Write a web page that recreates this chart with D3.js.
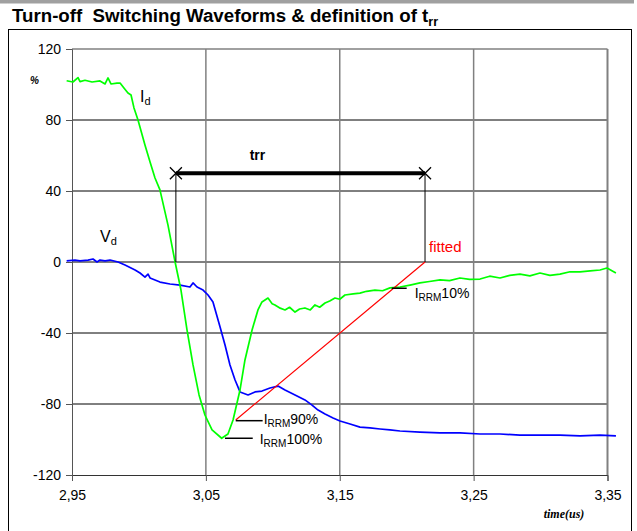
<!DOCTYPE html>
<html><head><meta charset="utf-8">
<script src="https://cdn.jsdelivr.net/npm/d3@7"></script>
<style>body{margin:0;background:#fff}svg{display:block}</style>
</head><body>
<script>
// ---- data ----
const xTicks = [2.95, 3.05, 3.15, 3.25, 3.35];
const yTicks = [-120, -80, -40, 0, 40, 80, 120];

const idTime = [2.946,2.9507,2.9545,2.956,2.9597,2.965,2.9709,2.9747,2.9769,2.9791,2.9836,2.9859,2.9888,2.9918,2.9941,2.9963,2.9993,3.0045,3.0083,3.012,3.0157,3.0217,3.027,3.0314,3.0359,3.0404,3.0449,3.0493,3.0546,3.0618,3.0665,3.0703,3.0755,3.0792,3.0845,3.0889,3.0919,3.0964,3.0995,3.1016,3.1055,3.1091,3.1125,3.1166,3.12,3.124,3.128,3.1315,3.135,3.139,3.1425,3.1464,3.15,3.1539,3.16,3.1651,3.17,3.1763,3.182,3.1875,3.195,3.2025,3.2099,3.217,3.2249,3.232,3.2398,3.247,3.2548,3.262,3.2697,3.277,3.2846,3.292,3.2996,3.307,3.3145,3.322,3.3295,3.337,3.3444,3.3496,3.3563];
const idValue = [102.1,101.4,103.9,101.6,102.4,101.4,102.0,100.3,103.7,100.3,100.8,100.8,98.0,95.2,94.1,86.8,80.0,65.9,56.3,47.3,40.6,20.8,0,-15.8,-38.3,-58.0,-74.9,-86.2,-94.6,-99.3,-96.9,-89.0,-72.1,-55.2,-38.3,-27.0,-22.5,-20.3,-23.5,-24.2,-26.0,-27.0,-25.5,-28.2,-26.5,-25.9,-27.0,-24.2,-25.5,-23.1,-22.0,-20.3,-21.0,-18.6,-18.0,-17.5,-16.5,-15.8,-16.2,-14.6,-14.1,-13.0,-11.8,-11.0,-10.1,-10.5,-9.0,-9.8,-9.6,-8.0,-9.0,-7.5,-6.8,-7.8,-6.2,-7.5,-6.8,-5.5,-5.6,-5.0,-4.5,-3.4,-6.2];

const vdTime = [2.946,2.9522,2.956,2.962,2.9657,2.9687,2.9709,2.9747,2.9784,2.9844,2.9896,2.9971,3.0008,3.0045,3.0068,3.0083,3.0157,3.0232,3.0307,3.0381,3.0404,3.0434,3.0479,3.0516,3.0553,3.0606,3.0643,3.068,3.0718,3.0755,3.0815,3.0867,3.0919,3.0979,3.1039,3.1091,3.1166,3.124,3.1293,3.1338,3.139,3.145,3.1502,3.1577,3.1651,3.1726,3.1801,3.1875,3.195,3.2099,3.2249,3.2398,3.2548,3.2697,3.2846,3.2996,3.3145,3.3295,3.3444,3.3563];
const vdValue = [0.6,1.1,0.6,1.1,1.7,0,1.1,0.6,1.1,0,-1.7,-4.5,-6.2,-8.5,-6.8,-9.0,-11.3,-12.4,-13.0,-14.1,-11.8,-14.1,-15.8,-18.6,-22.5,-36.6,-46.8,-58.0,-66.5,-73.2,-74.9,-73.2,-72.7,-71.0,-69.9,-72.1,-74.9,-77.7,-80.6,-83.4,-85.6,-87.9,-89.6,-91.3,-93.0,-93.5,-94.1,-94.6,-95.2,-95.8,-96.3,-96.3,-96.9,-96.9,-97.5,-97.5,-97.5,-98.0,-97.5,-98.0];

// annotation values
const trrStart = 3.0276, trrEnd = 3.2137, trrLevel = 50;
const fittedLine = [[3.0723, -89.0], [3.2137, 0]];
const irrm90 = [[3.0723, -89.4], [3.0924, -89.4]];
const irrm100 = [[3.0643, -99.3], [3.085, -99.3]];
const irrm10 = [[3.1888, -14.8], [3.2, -14.8]];

// ---- drawing ----
const W = 637, H = 531;
const svg = d3.select("body").append("svg").attr("width", W).attr("height", H);
const x = d3.scaleLinear().domain([2.95, 3.35]).range([72, 607.5]);
const y = d3.scaleLinear().domain([-120, 120]).range([475, 49]);
const font = "Liberation Sans, Arial, sans-serif";

// top gray bar
svg.append("rect").attr("x", 0).attr("y", 0).attr("width", 634).attr("height", 3.5).attr("fill", "#a0a0a0");
// title
const title = svg.append("text").attr("x", 12).attr("y", 22)
  .attr("font-family", font).attr("font-weight", "bold").attr("font-size", 18.7);
title.append("tspan").text("Turn-off\u00a0\u00a0Switching Waveforms & definition of t");
title.append("tspan").attr("font-size", 12.5).attr("dy", 4).text("rr");
// frame
svg.append("rect").attr("x", 8.5).attr("y", 29.5).attr("width", 623).attr("height", 510)
  .attr("fill", "none").attr("stroke", "#000").attr("stroke-width", 1);

// horizontal gridlines
svg.append("g").selectAll("line").data(yTicks.filter(d => d > -120 && d < 120)).join("line")
  .attr("x1", x(2.95)).attr("x2", x(3.35)).attr("y1", d => y(d)).attr("y2", d => y(d))
  .attr("stroke", "#000").attr("stroke-width", 1);
// top border
svg.append("line").attr("x1", x(2.95)).attr("x2", x(3.35)).attr("y1", y(120)).attr("y2", y(120))
  .attr("stroke", "#808080").attr("stroke-width", 1.5);
// vertical gridlines
svg.append("g").selectAll("line").data(xTicks.filter(d => d > 2.95)).join("line")
  .attr("x1", d => x(d)).attr("x2", d => x(d)).attr("y1", y(120)).attr("y2", y(-120))
  .attr("stroke", "#808080").attr("stroke-width", d => d === 3.35 ? 2 : 1.5);

// axes
const yAxis = d3.axisLeft(y).tickValues(yTicks).tickSize(6).tickPadding(5).tickFormat(d => String(d));
const gy = svg.append("g").attr("transform", `translate(${x(2.95)},0)`).call(yAxis);
gy.select(".domain").attr("stroke", "#555");
gy.selectAll(".tick line").attr("stroke", "#555");
gy.selectAll("text").attr("font-family", font).attr("font-size", 14).attr("fill", "#000");

const fmt = d => d.toFixed(2).replace(".", ",");
const xAxis = d3.axisBottom(x).tickValues(xTicks).tickSize(6).tickPadding(9).tickFormat(fmt);
const gx = svg.append("g").attr("transform", `translate(0,${y(-120)})`).call(xAxis);
gx.select(".domain").attr("stroke", "#333");
gx.selectAll(".tick line").attr("stroke", "#555");
gx.selectAll("text").attr("font-family", font).attr("font-size", 14).attr("fill", "#000");

svg.append("text").attr("x", 564).attr("y", 518).attr("text-anchor", "middle")
  .attr("font-family", "Liberation Serif, Times New Roman, serif").attr("font-style", "italic")
  .attr("font-weight", "bold").attr("font-size", 12).text("time(us)");
svg.append("text").attr("x", 30).attr("y", 84)
  .attr("font-family", font).attr("font-style", "italic").attr("font-weight", "bold").attr("font-size", 10).text("%");

// curves
const line = d3.line().x(d => x(d[0])).y(d => y(d[1]));
const idData = idTime.map((t, i) => [t, idValue[i]]);
const vdData = vdTime.map((t, i) => [t, vdValue[i]]);
svg.append("path").datum(vdData).attr("d", line).attr("fill", "none").attr("stroke", "#0000ff").attr("stroke-width", 1.7).attr("stroke-linejoin", "round");
svg.append("path").datum(idData).attr("d", line).attr("fill", "none").attr("stroke", "#00ff00").attr("stroke-width", 1.7).attr("stroke-linejoin", "round");

// trr annotation
[trrStart, trrEnd].forEach(t => {
  svg.append("line").attr("x1", x(t)).attr("x2", x(t)).attr("y1", y(trrLevel)).attr("y2", y(0))
    .attr("stroke", "#000").attr("stroke-width", 1);
});
svg.append("line").attr("x1", x(trrStart)).attr("x2", x(trrEnd)).attr("y1", y(trrLevel)).attr("y2", y(trrLevel))
  .attr("stroke", "#000").attr("stroke-width", 4);
[trrStart, trrEnd].forEach(t => {
  const cx = x(t), cy = y(trrLevel), s = 6;
  svg.append("path").attr("d", `M${cx - s},${cy - s}L${cx + s},${cy + s}M${cx - s},${cy + s}L${cx + s},${cy - s}`)
    .attr("stroke", "#000").attr("stroke-width", 1.3);
});
svg.append("text").attr("x", (x(trrStart) + x(trrEnd)) / 2 - 43).attr("y", y(trrLevel) - 13).attr("text-anchor", "middle")
  .attr("font-family", font).attr("font-weight", "bold").attr("font-size", 14).text("trr");

// fitted line
svg.append("path").datum(fittedLine).attr("d", line).attr("stroke", "#ff0000").attr("stroke-width", 1.2).attr("fill", "none");
svg.append("text").attr("x", x(trrEnd) + 4).attr("y", y(0) - 10)
  .attr("font-family", font).attr("font-size", 15).attr("fill", "#ff0000").text("fitted");

// IRRM markers
[irrm90, irrm100, irrm10].forEach(seg => {
  svg.append("path").datum(seg).attr("d", line).attr("stroke", "#000").attr("stroke-width", 1.5);
});
function irrmLabel(px, py, pct) {
  const t = svg.append("text").attr("x", px).attr("y", py).attr("font-family", font).attr("font-size", 14);
  t.append("tspan").text("I");
  t.append("tspan").attr("font-size", 10).attr("dy", 3).text("RRM");
  t.append("tspan").attr("dy", -3).text(pct);
}
irrmLabel(x(irrm90[1][0]) + 1, y(irrm90[0][1]) + 3, "90%");
irrmLabel(x(irrm100[1][0]) + 7, y(irrm100[0][1]) + 6, "100%");
irrmLabel(x(irrm10[1][0]) + 8, y(irrm10[0][1]) + 10, "10%");

// series labels
function seriesLabel(px, py, main, sub) {
  const t = svg.append("text").attr("x", px).attr("y", py).attr("font-family", font).attr("font-size", 16);
  t.append("tspan").text(main);
  t.append("tspan").attr("font-size", 11).attr("dy", 3).text(sub);
}
seriesLabel(x(3.0008), y(90), "I", "d");
seriesLabel(x(2.971), y(11), "V", "d");
</script>
</body></html>
